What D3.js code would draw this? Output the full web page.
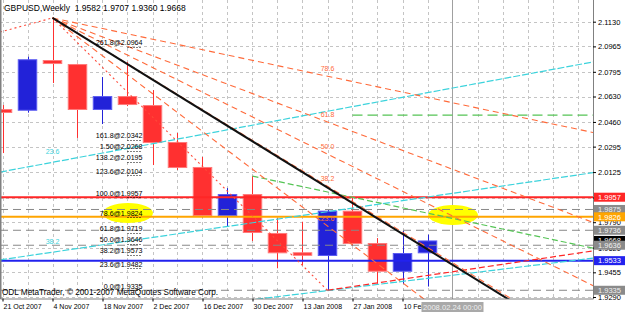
<!DOCTYPE html>
<html>
<head>
<meta charset="utf-8">
<script src="https://cdnjs.cloudflare.com/ajax/libs/d3/7.8.5/d3.min.js"></script>
<style>
  body { margin: 0; background: #fff; }
  svg { display: block; font-family: "Liberation Sans", Arial, sans-serif; }
</style>
</head>
<body>
<div id="chart"></div>
<script>
// GBPUSD weekly candles
const weeks = ['21 Oct 2007', '28 Oct 2007', '4 Nov 2007', '11 Nov 2007', '18 Nov 2007', '25 Nov 2007',
  '2 Dec 2007', '9 Dec 2007', '16 Dec 2007', '23 Dec 2007', '30 Dec 2007', '6 Jan 2008',
  '13 Jan 2008', '20 Jan 2008', '27 Jan 2008', '3 Feb 2008', '10 Feb 2008', '17 Feb 2008'];
const opens  = [2.0546, 2.0535, 2.0874, 2.0847, 2.0540, 2.0633, 2.0573, 2.0326, 2.0159, 1.9831, 1.9978, 1.9718, 1.9589, 1.9564, 1.9867, 1.9651, 1.9459, 1.9582];
const highs  = [2.0573, 2.0896, 2.1155, 2.0850, 2.0760, 2.0861, 2.0673, 2.0386, 2.0226, 2.0018, 2.0098, 1.9818, 1.9793, 1.9871, 1.9957, 1.9684, 1.9731, 1.9707];
const lows   = [2.0252, 2.0522, 2.0720, 2.0353, 2.0446, 2.0566, 2.0172, 2.0139, 1.9822, 1.9764, 1.9664, 1.9482, 1.9504, 1.9335, 1.9631, 1.9381, 1.9377, 1.9360];
const closes = [2.0520, 2.0879, 2.0847, 2.0540, 2.0633, 2.0573, 2.0319, 2.0152, 1.9831, 1.9978, 1.9718, 1.9582, 1.9566, 1.9867, 1.9644, 1.9459, 1.9584, 1.9668];

const priceTicks = [2.1130, 2.0965, 2.0795, 2.0630, 2.0460, 2.0295, 2.0125, 1.9955, 1.9790, 1.9620, 1.9455, 1.9290];
const dateIdx = [0, 2, 4, 6, 8, 10, 12, 14, 16];
const dateLabels = ['21 Oct 2007', '4 Nov 2007', '18 Nov 2007', '2 Dec 2007', '16 Dec 2007', '30 Dec 2007', '13 Jan 2008', '27 Jan 2008', '10 Feb 2008'];

// fibo retracement
const fibLabels = ['0.0', '23.6', '38.2', '50.0', '61.8', '78.6', '100.0', '123.6', '138.2', '1.50', '161.8', '261.8'];
const fibPrices = [1.9335, 1.9482, 1.9573, 1.9646, 1.9719, 1.9824, 1.9957, 2.0104, 2.0195, 2.0268, 2.0342, 2.0964];

// fibo fan from the 4 Nov high to the 20 Jan low
const fanLevels = [23.6, 38.2, 50.0, 61.8, 78.6];
const fanHigh = [2, 2.1155];
const fanLow = [13, 1.9335];

// horizontal lines
const hLinePrices = [1.9875, 1.9736, 1.9636, 1.9335, 1.9957, 1.9826, 1.9533];
const hLineKinds  = ['grey', 'grey', 'grey', 'grey', 'red', 'orange', 'blue'];

// channel lines (cyan) and other trend lines, [week index, price]
const channelLines = [[[-0.1, 2.0125], [23.62, 2.0861]], [[-0.1, 1.9538], [23.62, 2.0121]], [[8, 1.9231], [23.62, 1.9550]]];
const channelLabels = ['23.6', '38.2', ''];
const trendMain = [[2, 2.1155], [20.4, 1.9258]];
const trendLeft = [[-0.1, 2.1061], [2, 2.1155]];
const trendRedUp = [[13, 1.9335], [23.62, 1.9598]];
const trendGreen = [[10, 2.0098], [23.62, 1.9617]];
const levelGreen = [[14, 2.0506], [23.62, 2.0506]];
const highlights = [[5.02, 1.9851], [18.02, 1.9838]];
const markerIdx = 18;
const markerText = '2008.02.24 00:00';

const width = 625, height = 313;
const plotW = 593, plotH = 299;

const colors = {
  bull: '#2222d8', bullEdge: '#5c5cf2',
  bear: '#ff3030', bearEdge: '#ff7a7a',
  grid: '#c4c4c4', axis: '#808080',
  grey: '#888888', red: '#ff2626', orange: '#ffa500', blue: '#2222ee',
  fan: '#ff6a3a', cyan: '#3dd3dc', green: '#55c455'
};

const svg = d3.select('#chart').append('svg')
  .attr('width', width)
  .attr('height', height)
  .style('background', '#fff');

const x = d3.scaleLinear().domain([-0.1, 23.62]).range([0, plotW]);
const y = d3.scaleLinear().domain([1.9270, 2.1275]).range([300, 0]);
const step = x(1) - x(0);
const bodyW = step * 0.78;

svg.append('defs').append('clipPath').attr('id', 'plot')
  .append('rect').attr('x', 0).attr('y', 0).attr('width', plotW).attr('height', plotH);

const plot = svg.append('g').attr('clip-path', 'url(#plot)');

// grid
plot.append('g').selectAll('line')
  .data(priceTicks)
  .enter().append('line')
    .attr('x1', 0).attr('x2', plotW)
    .attr('y1', d => Math.round(y(d)) + 0.5).attr('y2', d => Math.round(y(d)) + 0.5)
    .attr('stroke', colors.grid).attr('stroke-dasharray', '3,3');

plot.append('g').selectAll('line')
  .data(d3.range(0, 24).filter(i => i !== markerIdx))
  .enter().append('line')
    .attr('x1', d => Math.round(x(d)) + 0.5).attr('x2', d => Math.round(x(d)) + 0.5)
    .attr('y1', 0).attr('y2', plotH)
    .attr('stroke', colors.grid).attr('stroke-dasharray', '3,3');

// marker vertical line
plot.append('line')
  .attr('x1', Math.round(x(markerIdx)) + 0.5).attr('x2', Math.round(x(markerIdx)) + 0.5)
  .attr('y1', 0).attr('y2', plotH)
  .attr('stroke', '#a0a0a0');

// yellow highlights
plot.append('g').selectAll('ellipse')
  .data(highlights)
  .enter().append('ellipse')
    .attr('cx', d => x(d[0])).attr('cy', d => y(d[1]))
    .attr('rx', 25).attr('ry', 10)
    .attr('fill', '#ffff00');

// candles
const candles = weeks.map((w, i) => ({ i: i, o: opens[i], h: highs[i], l: lows[i], c: closes[i] }));

const cg = plot.append('g');
cg.selectAll('.wick')
  .data(candles)
  .enter().append('line')
    .attr('class', 'wick')
    .attr('x1', d => Math.round(x(d.i)) + 0.5).attr('x2', d => Math.round(x(d.i)) + 0.5)
    .attr('y1', d => y(d.h)).attr('y2', d => y(d.l))
    .attr('stroke', d => d.c >= d.o ? colors.bull : colors.bear);

cg.selectAll('.body')
  .data(candles)
  .enter().append('rect')
    .attr('class', 'body')
    .attr('x', d => x(d.i) - bodyW / 2 + 0.5)
    .attr('y', d => y(Math.max(d.o, d.c)) + 0.5)
    .attr('width', bodyW - 1)
    .attr('height', d => Math.max(2.5, Math.abs(y(d.o) - y(d.c)) - 1))
    .attr('fill', d => d.c >= d.o ? colors.bull : colors.bear)
    .attr('stroke', d => d.c >= d.o ? colors.bullEdge : colors.bearEdge)
    .attr('stroke-width', 1);

const line = d3.line().x(d => x(d[0])).y(d => y(d[1]));

// horizontal lines
plot.append('g').selectAll('line')
  .data(hLinePrices)
  .enter().append('line')
    .attr('x1', 0).attr('x2', plotW)
    .attr('y1', d => y(d)).attr('y2', d => y(d))
    .attr('stroke', (d, i) => colors[hLineKinds[i]])
    .attr('stroke-width', (d, i) => hLineKinds[i] === 'grey' ? 1 : 2)
    .attr('stroke-dasharray', (d, i) => hLineKinds[i] === 'grey' ? '8,5' : null);

// channel lines
plot.append('g').selectAll('path')
  .data(channelLines)
  .enter().append('path')
    .attr('d', line)
    .attr('fill', 'none')
    .attr('stroke', colors.cyan)
    .attr('stroke-width', 1.2)
    .attr('stroke-dasharray', '7,2');

channelLines.forEach((seg, i) => {
  if (!channelLabels[i]) return;
  const t = (2 - seg[0][0]) / (seg[1][0] - seg[0][0]);
  const p = seg[0][1] + t * (seg[1][1] - seg[0][1]);
  plot.append('text')
    .attr('x', x(2)).attr('y', y(p) - 8)
    .attr('text-anchor', 'middle')
    .style('font-size', '7px')
    .attr('fill', colors.cyan)
    .text(channelLabels[i]);
});

plot.append('path').attr('d', line(trendRedUp))
  .attr('fill', 'none').attr('stroke', colors.red).attr('stroke-width', 1.2).attr('stroke-dasharray', '6,3');
plot.append('path').attr('d', line(trendGreen))
  .attr('fill', 'none').attr('stroke', colors.green).attr('stroke-width', 1.2).attr('stroke-dasharray', '6,3');
plot.append('path').attr('d', line(levelGreen))
  .attr('fill', 'none').attr('stroke', colors.green).attr('stroke-width', 1.2).attr('stroke-dasharray', '10,5');

// fibo fan
const fanRange = fanHigh[1] - fanLow[1];
const fanRun = fanLow[0] - fanHigh[0];
fanLevels.forEach(L => {
  const at = fanLow[1] + L / 100 * fanRange;
  const slope = (at - fanHigh[1]) / fanRun;
  const far = 40;
  plot.append('path')
    .attr('d', line([fanHigh, [far, fanHigh[1] + slope * (far - fanHigh[0])]]))
    .attr('fill', 'none')
    .attr('stroke', colors.fan)
    .attr('stroke-width', 1.1)
    .attr('stroke-dasharray', '6,4');
  plot.append('text')
    .attr('x', x(fanLow[0])).attr('y', y(at) - 5)
    .attr('text-anchor', 'middle')
    .style('font-size', '7px')
    .attr('fill', colors.fan)
    .text(L.toFixed(1));
});
plot.append('path').attr('d', line([fanHigh, fanLow]))
  .attr('fill', 'none').attr('stroke', '#ff4a3a').attr('stroke-width', 1.1).attr('stroke-dasharray', '2,3');
plot.append('path').attr('d', line(trendLeft))
  .attr('fill', 'none').attr('stroke', '#ff4a3a').attr('stroke-width', 1.1).attr('stroke-dasharray', '2,3');

// main trend line
plot.append('path').attr('d', line(trendMain))
  .attr('fill', 'none').attr('stroke', '#111').attr('stroke-width', 2);

// fibo retracement levels
const fibG = plot.append('g');
fibG.selectAll('line')
  .data(fibPrices)
  .enter().append('line')
    .attr('x1', x(5)).attr('x2', x(5.6))
    .attr('y1', d => Math.round(y(d)) + 0.5).attr('y2', d => Math.round(y(d)) + 0.5)
    .attr('stroke', '#000').attr('stroke-dasharray', '1,2');
fibG.selectAll('text')
  .data(fibPrices)
  .enter().append('text')
    .attr('x', x(5.6)).attr('y', d => y(d) - 1.5)
    .attr('text-anchor', 'end')
    .style('font-size', '7.1px')
    .attr('fill', '#000')
    .text((d, i) => fibLabels[i] + '@' + d.toFixed(4));

// title and copyright
const last = candles[candles.length - 1];
svg.append('text')
  .attr('x', 4).attr('y', 10.5)
  .attr('xml:space', 'preserve')
  .style('font-size', '8.5px')
  .attr('fill', '#000')
  .text('GBPUSD,Weekly  ' + [last.o, last.h, last.l, last.c].map(v => v.toFixed(4)).join(' '));

svg.append('text')
  .attr('x', 2).attr('y', 295)
  .style('font-size', '8.2px')
  .attr('fill', '#000')
  .text('ODL MetaTrader, \u00a9 2001-2007 MetaQuotes Software Corp.');

// left border
svg.append('line').attr('x1', 0.75).attr('x2', 0.75).attr('y1', 0).attr('y2', plotH)
  .attr('stroke', colors.axis).attr('stroke-width', 1.5);

// axes
const yAxis = d3.axisRight(y)
  .tickValues(priceTicks)
  .tickFormat(d3.format('.4f'))
  .tickSize(3)
  .tickSizeOuter(0)
  .tickPadding(2);

const yg = svg.append('g')
  .attr('transform', `translate(${plotW},0)`)
  .call(yAxis);
yg.select('.domain').attr('stroke', colors.axis).attr('d', `M0.5,0V${plotH}`);
yg.selectAll('.tick line').attr('stroke', '#000');
yg.selectAll('text').style('font-size', '7.5px').attr('fill', '#000').attr('font-family', null);

const xAxis = d3.axisBottom(x)
  .tickValues(dateIdx)
  .tickFormat((d, i) => dateLabels[i])
  .tickSize(3)
  .tickSizeOuter(0);

const xg = svg.append('g')
  .attr('transform', `translate(0,${plotH - 0.5})`)
  .call(xAxis);
xg.select('.domain').attr('stroke', colors.axis);
xg.selectAll('.tick line').attr('stroke', '#000');
xg.selectAll('text')
  .style('font-size', '7px')
  .attr('fill', '#000')
  .attr('font-family', null)
  .attr('text-anchor', 'start')
  .attr('x', 0.5)
  .attr('y', 6);

// price label boxes on the right axis
const boxes = [{ p: last.c, kind: 'black' }]
  .concat(hLinePrices.map((p, i) => ({ p: p, kind: hLineKinds[i] })));
const boxFill = { black: '#000', grey: '#8a8a8a', red: colors.red, orange: colors.orange, blue: colors.blue };
const bg = svg.append('g');
boxes.forEach(b => {
  const cy = y(b.p);
  bg.append('rect')
    .attr('x', plotW + 1).attr('y', cy - 4.5)
    .attr('width', width - plotW - 1).attr('height', 9)
    .attr('fill', boxFill[b.kind]);
  bg.append('text')
    .attr('x', plotW + 5).attr('y', cy + 2.7)
    .style('font-size', '7.5px')
    .attr('fill', b.kind === 'grey' ? '#f0f0f0' : '#fff')
    .text(b.p.toFixed(4));
});

// time marker box
const mx = x(markerIdx);
svg.append('rect')
  .attr('x', mx - 31).attr('y', 302)
  .attr('width', 62).attr('height', 10)
  .attr('fill', '#a9a9a9');
svg.append('text')
  .attr('x', mx).attr('y', 310)
  .attr('text-anchor', 'middle')
  .style('font-size', '7.6px')
  .attr('fill', '#eeeeee')
  .text(markerText);
</script>
</body>
</html>
